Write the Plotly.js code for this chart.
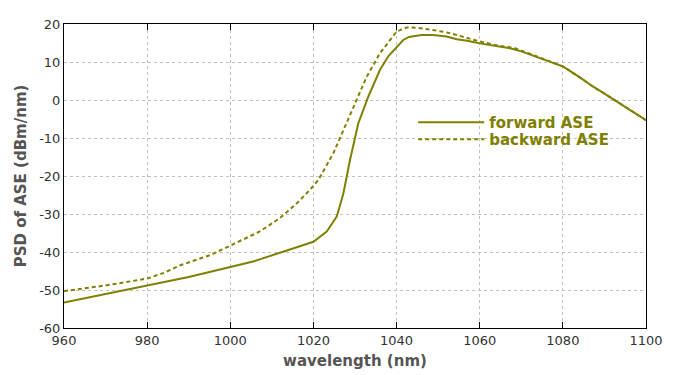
<!DOCTYPE html>
<html><head><meta charset="utf-8">
<script src="https://cdn.plot.ly/plotly-3.0.1.min.js"></script>
<style>body{margin:0;background:#fff}#c{width:700px;height:375px}</style>
</head><body><div id="c"></div>
<script>
const fwdWl = [960, 970, 980, 990, 997.5, 1005.5, 1013.6, 1020, 1023.2, 1025.6, 1026.2, 1027.2, 1028.8, 1030.8, 1033.2, 1036, 1038, 1040, 1041.6, 1043, 1046, 1048.8, 1052, 1054.5, 1057, 1060, 1064.9, 1067.3, 1070, 1074.5, 1077, 1080.1, 1084, 1087.3, 1090, 1093, 1096, 1100];
const fwdPsd = [-53.3, -51.1, -48.9, -46.6, -44.6, -42.5, -39.6, -37.3, -34.6, -30.7, -28.5, -24.6, -15.8, -6.1, 0.9, 7.9, 11.5, 14.0, 15.8, 16.6, 17.1, 17.1, 16.7, 16.0, 15.6, 14.9, 14.0, 13.6, 12.8, 11.0, 10.0, 8.8, 6.0, 3.5, 1.7, -0.4, -2.4, -5.3];
const bwdWl = [960, 970, 980, 984, 988, 995.2, 998.3, 1002.3, 1007.1, 1011.9, 1016, 1019.1, 1021.2, 1024.8, 1027.2, 1029.6, 1032.8, 1036, 1040, 1042.5, 1045, 1048.8, 1052, 1054.5, 1057, 1060, 1064.9, 1068, 1072, 1076, 1080.1, 1084, 1087.3, 1090, 1093, 1096, 1100];
const bwdPsd = [-50.3, -48.8, -47.0, -45.5, -43.5, -40.8, -39.2, -37.1, -34.6, -31.1, -27.2, -23.7, -21.0, -14.0, -7.9, -1.8, 6.1, 12.3, 18.0, 19.1, 19.0, 18.4, 17.8, 17.1, 16.3, 15.4, 14.2, 13.8, 12.2, 10.6, 8.8, 6.0, 3.5, 1.7, -0.4, -2.4, -5.3];
const seriesNames = ['forward ASE', 'backward ASE'];
const xTicks = [960, 980, 1000, 1020, 1040, 1060, 1080, 1100];
const yTicks = [-60, -50, -40, -30, -20, -10, 0, 10, 20];

const olive = '#808000';
const fam = 'DejaVu Sans, Verdana, sans-serif';
const traces = [
  {x: fwdWl, y: fwdPsd, name: seriesNames[0], mode: 'lines', line: {color: olive, width: 2}, legend: 'legend'},
  {x: bwdWl, y: bwdPsd, name: seriesNames[1], mode: 'lines', line: {color: olive, width: 2, dash: '4px,3px'}, legend: 'legend2'}
];
const legFont = {family: fam, size: 15, color: olive, weight: 'bold'};
const layout = {
  width: 700, height: 375,
  margin: {l: 64, r: 54, t: 24, b: 47},
  paper_bgcolor: '#fff', plot_bgcolor: '#fff',
  font: {family: fam, size: 13, color: '#333'},
  showlegend: true,
  legend: {x: 0.6, y: 0.73, xanchor: 'left', yanchor: 'top', bgcolor: 'rgba(0,0,0,0)', font: legFont, itemwidth: 66},
  legend2: {x: 0.6, y: 0.674, xanchor: 'left', yanchor: 'top', bgcolor: 'rgba(0,0,0,0)', font: legFont, itemwidth: 66},
  xaxis: {range: [960, 1100], tickvals: xTicks, ticktext: xTicks.map(String),
          showgrid: true, gridcolor: '#c0c0c0', griddash: '3px,3px', gridwidth: 1,
          showline: true, linecolor: '#000', linewidth: 1, mirror: 'ticks',
          ticks: 'inside', ticklen: 6, tickcolor: '#000', zeroline: false,
          title: {text: 'wavelength (nm)', font: {family: fam, size: 15, color: '#555', weight: 'bold'}, standoff: 8}},
  yaxis: {range: [-60, 20], tickvals: yTicks, ticktext: yTicks.map(String),
          showgrid: true, gridcolor: '#c0c0c0', griddash: '3px,3px', gridwidth: 1,
          showline: true, linecolor: '#000', linewidth: 1, mirror: true,
          ticks: '', zeroline: false,
          title: {text: 'PSD of ASE (dBm/nm)', font: {family: fam, size: 15, color: '#555', weight: 'bold'}, standoff: 8}}
};
Plotly.newPlot('c', traces, layout, {displayModeBar: false, staticPlot: true});
</script></body></html>
